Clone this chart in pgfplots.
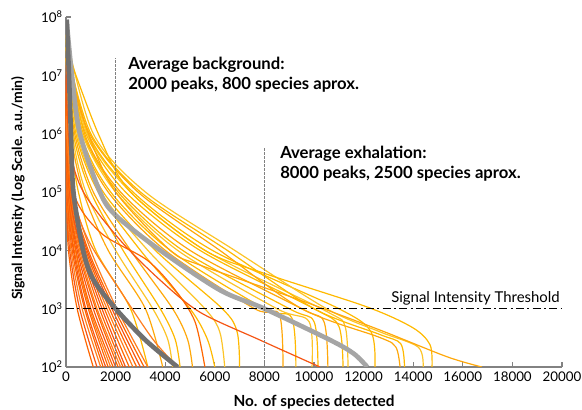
\documentclass[border=0pt]{standalone}
\usepackage{pgfplots}
\pgfplotsset{compat=1.18}
\usepackage{fontspec}
\setmainfont{Lato}
\definecolor{bgA}{RGB}{255,102,0}
\definecolor{bgB}{RGB}{245,85,20}
\definecolor{bgC}{RGB}{255,125,30}
\definecolor{exA}{RGB}{255,185,0}
\definecolor{exB}{RGB}{255,168,10}
\definecolor{exC}{RGB}{252,196,40}
\definecolor{dgray}{RGB}{112,112,112}
\definecolor{lgray}{RGB}{165,165,165}
\definecolor{axgray}{RGB}{130,130,130}

\begin{document}
\begin{tikzpicture}
\begin{axis}[
    scale only axis,
    width=372pt, height=262.5pt,
    xmin=0, xmax=20000,
    ymin=100, ymax=1e8,
    ymode=log, log basis y=10,
    axis x line=bottom, axis y line=left,
    axis line style={-, axgray, line width=1.1pt},
    tick style={axgray, line width=0.8pt},
    major tick length=4pt,
    tick align=inside,
    xtick={0,2000,...,20000},
    scaled x ticks=false,
    ytick={1e2,1e3,1e4,1e5,1e6,1e7,1e8},
    yticklabels={10\textsuperscript{2},10\textsuperscript{3},10\textsuperscript{4},10\textsuperscript{5},10\textsuperscript{6},10\textsuperscript{7},10\textsuperscript{8}},
    yminorticks=false,
    /pgf/number format/1000 sep={},
    /pgf/number format/assume math mode=true,
    ticklabel style={font=\fontsize{10}{12}\selectfont},
    yticklabel style={xshift=1pt},
    xlabel={No. of species detected},
    ylabel={Signal Intensity (Log Scale. a.u./min)},
    xlabel style={at={(axis description cs:0.5,-0.114)}, anchor=base, font=\fontsize{11.5}{13}\selectfont\bfseries},
    ylabel style={at={(axis description cs:-0.097,0.51)}, anchor=center, font=\fontsize{10.5}{12}\selectfont\bfseries},
    clip=true,
    bg/.style={smooth, line width=0.9pt},
    ex/.style={smooth, line width=0.9pt},
]
% exhalation samples
\addplot[ex, exA] coordinates {(0,2e7)(150,1e6)(500,1e5)(1200,1e4)(2600,1e3)(3300,1e2)};
\addplot[ex, exB] coordinates {(0,3e7)(200,1e6)(700,1e5)(1700,1e4)(3200,1e3)(3900,1e2)};
\addplot[ex, exC] coordinates {(0,2e7)(250,1e6)(800,1e5)(2000,1e4)(3500,1e3)(4100,3e2)(4300,1e2)};
\addplot[ex, exA] coordinates {(0,4e7)(300,1e6)(1000,1e5)(2300,1e4)(3800,1e3)(4400,3e2)(4600,1e2)};
\addplot[ex, exB] coordinates {(0,2e7)(350,1e6)(1100,1e5)(2600,1e4)(4300,1e3)(4900,3e2)(5100,1e2)};
\addplot[ex, exA] coordinates {(0,3e7)(400,1e6)(1300,1e5)(3000,1e4)(5000,1e3)(5700,3e2)(6000,1e2)};
\addplot[ex, exC] coordinates {(0,5e7)(450,1e6)(1400,1e5)(3300,1e4)(5600,1e3)(6200,4e2)(6400,1e2)};
\addplot[ex, exA] coordinates {(0,2e7)(500,1e6)(1500,1e5)(3600,1e4)(6300,1e3)(6900,4e2)(7000,1e2)};
\addplot[ex, exB] coordinates {(0,3e7)(550,1e6)(1700,1e5)(4000,1e4)(7600,1e3)(8600,8e2)(8750,1e2)};
\addplot[ex, exA] coordinates {(0,4e7)(600,1e6)(1800,1e5)(4200,1e4)(8000,1e3)(9100,7e2)(9270,1e2)};
\addplot[ex, exC] coordinates {(0,2e7)(650,1e6)(2000,1e5)(4500,1e4)(8500,1e3)(9800,6e2)(9920,1e2)};
\addplot[ex, exA] coordinates {(0,3e7)(700,1e6)(2100,1e5)(4700,1e4)(9000,1e3)(10000,6e2)(10160,1e2)};
\addplot[ex, exB] coordinates {(0,5e7)(750,1e6)(2200,1e5)(5000,1e4)(9500,1e3)(10400,6e2)(10560,1e2)};
\addplot[ex, exA] coordinates {(0,2e7)(800,1e6)(2400,1e5)(5400,1e4)(10000,1e3)(11000,5e2)(11170,1e2)};
\addplot[ex, exC] coordinates {(0,3e7)(850,1e6)(2600,1e5)(5600,1e4)(10500,9e2)(11250,5e2)(11370,1e2)};
\addplot[ex, exA] coordinates {(0,4e7)(900,1e6)(2700,1e5)(5900,1e4)(11000,1e3)(12300,4e2)(12460,1e2)};
\addplot[ex, exB] coordinates {(0,2e7)(950,1e6)(2900,1e5)(6200,1e4)(9500,1e3)(12660,3.2e2)(13300,2.2e2)(13470,1e2)};
\addplot[ex, exA] coordinates {(0,3e7)(1000,1e6)(3000,1e5)(6500,1e4)(10000,1e3)(12660,3.6e2)(13500,2.5e2)(13650,1e2)};
\addplot[ex, exC] coordinates {(0,5e7)(1100,1e6)(3200,1e5)(6800,1e4)(10500,1e3)(12660,4e2)(14200,2.2e2)(14400,1e2)};
\addplot[ex, exA] coordinates {(0,3e7)(1300,1e6)(2600,1e5)(5600,1e4)(8020,4e3)(12140,1.07e3)(13990,4.7e2)(14680,2.4e2)(14760,1e2)};
\addplot[ex, exB] coordinates {(0,2e7)(900,1e6)(2000,1e5)(4200,1e4)(5400,5.6e3)(9440,1.4e3)(12660,4.3e2)(15360,1.5e2)(16770,1e2)};
% background samples
\addplot[bg, bgA] coordinates {(0,2e6)(20,1e5)(100,1e4)(450,1e3)(1100,1e2)};
\addplot[bg, bgB] coordinates {(0,3e6)(30,1e5)(150,1e4)(550,1e3)(1250,1e2)};
\addplot[bg, bgC] coordinates {(0,5e6)(40,1e5)(200,1e4)(650,1e3)(1400,1e2)};
\addplot[bg, bgA] coordinates {(0,1e7)(50,1e5)(250,1e4)(750,1e3)(1500,1e2)};
\addplot[bg, bgB] coordinates {(0,4e6)(60,1e5)(300,1e4)(800,1e3)(1600,1e2)};
\addplot[bg, bgA] coordinates {(0,8e6)(70,1e5)(330,1e4)(900,1e3)(1700,1e2)};
\addplot[bg, bgC] coordinates {(0,2e7)(80,1e5)(380,1e4)(950,1e3)(1800,1e2)};
\addplot[bg, bgA] coordinates {(0,5e6)(90,1e5)(400,1e4)(1000,1e3)(1900,1e2)};
\addplot[bg, bgB] coordinates {(0,3e6)(100,1e5)(450,1e4)(1100,1e3)(2000,1e2)};
\addplot[bg, bgA] coordinates {(0,1e7)(110,1e5)(500,1e4)(1200,1e3)(2100,1e2)};
\addplot[bg, bgC] coordinates {(0,6e6)(120,1e5)(550,1e4)(1250,1e3)(2200,1e2)};
\addplot[bg, bgA] coordinates {(0,2e6)(130,1e5)(600,1e4)(1350,1e3)(2300,1e2)};
\addplot[bg, bgB] coordinates {(0,1.5e7)(150,1e5)(650,1e4)(1450,1e3)(2400,1e2)};
\addplot[bg, bgA] coordinates {(0,4e6)(170,1e5)(700,1e4)(1550,1e3)(2550,1e2)};
\addplot[bg, bgC] coordinates {(0,7e6)(190,1e5)(750,1e4)(1650,1e3)(2700,1e2)};
\addplot[bg, bgA] coordinates {(0,3e6)(200,1e5)(800,1e4)(1750,1e3)(2850,1e2)};
\addplot[bg, bgB] coordinates {(0,1e7)(220,1e5)(850,1e4)(1850,1e3)(3000,1e2)};
\addplot[bg, bgA] coordinates {(0,5e6)(240,1e5)(900,1e4)(1950,1e3)(3150,1e2)};
\addplot[bg, bgC] coordinates {(0,2e6)(260,1e5)(1000,1e4)(2050,1e3)(3300,1e2)};
\addplot[bg, bgB] coordinates {(0,5e6)(160,5.2e5)(700,1e5)(2180,1.5e4)(3790,3.1e3)(5400,8.7e2)(7820,2.9e2)(10240,1e2)};
\addplot[bg, bgA] coordinates {(0,3e6)(300,1e5)(1400,2e4)(3270,6.8e3)(4400,2.1e3)(5200,6e2)(5600,1e2)};
\addplot[bg, bgC] coordinates {(0,2e6)(250,1e5)(900,1.5e4)(2200,2e3)(3500,3e2)(4500,1e2)};
% averages
\addplot[smooth, lgray, line width=3.5pt] coordinates {(20,9e7)(240,1e7)(560,1e6)(1370,1e5)(2000,4e4)(3800,1e4)(6200,2.09e3)(8000,1e3)(10650,2.9e2)(11600,1.7e2)(12150,1e2)};
\addplot[smooth, dgray, line width=3.5pt] coordinates {(30,9e7)(120,1e7)(200,1e6)(300,1e5)(690,1e4)(1100,3.16e3)(2000,1e3)(3200,2.9e2)(4500,1e2)};
% reference lines
\addplot[gray, line width=0.6pt, dash pattern=on 2pt off 1pt] coordinates {(2000,100)(2000,2e7)};
\addplot[gray, line width=0.6pt, dash pattern=on 2pt off 1pt] coordinates {(8000,100)(8000,5.9e5)};
\addplot[black, line width=0.8pt, dash pattern=on 6pt off 2.5pt on 1.5pt off 2.5pt] coordinates {(0,1000)(20000,1000)};
\node[anchor=north west, inner sep=0pt, align=left, font=\fontsize{12.5}{15}\selectfont\bfseries] at (axis cs:2500,2.1e7) {Average background:\\2000 peaks, 800 species aprox.};
\node[anchor=north west, inner sep=0pt, align=left, font=\fontsize{12.5}{15}\selectfont\bfseries] at (axis cs:8630,6.2e5) {Average exhalation:\\8000 peaks, 2500 species aprox.};
\node[anchor=base east, inner sep=0pt, font=\fontsize{11.2}{13}\selectfont] at (axis cs:19920,1.3e3) {Signal Intensity Threshold};
\end{axis}
\pgfresetboundingbox
\path[use as bounding box] (-49.5pt,-32.25pt) rectangle (387pt,275.25pt);
\end{tikzpicture}
\end{document}
